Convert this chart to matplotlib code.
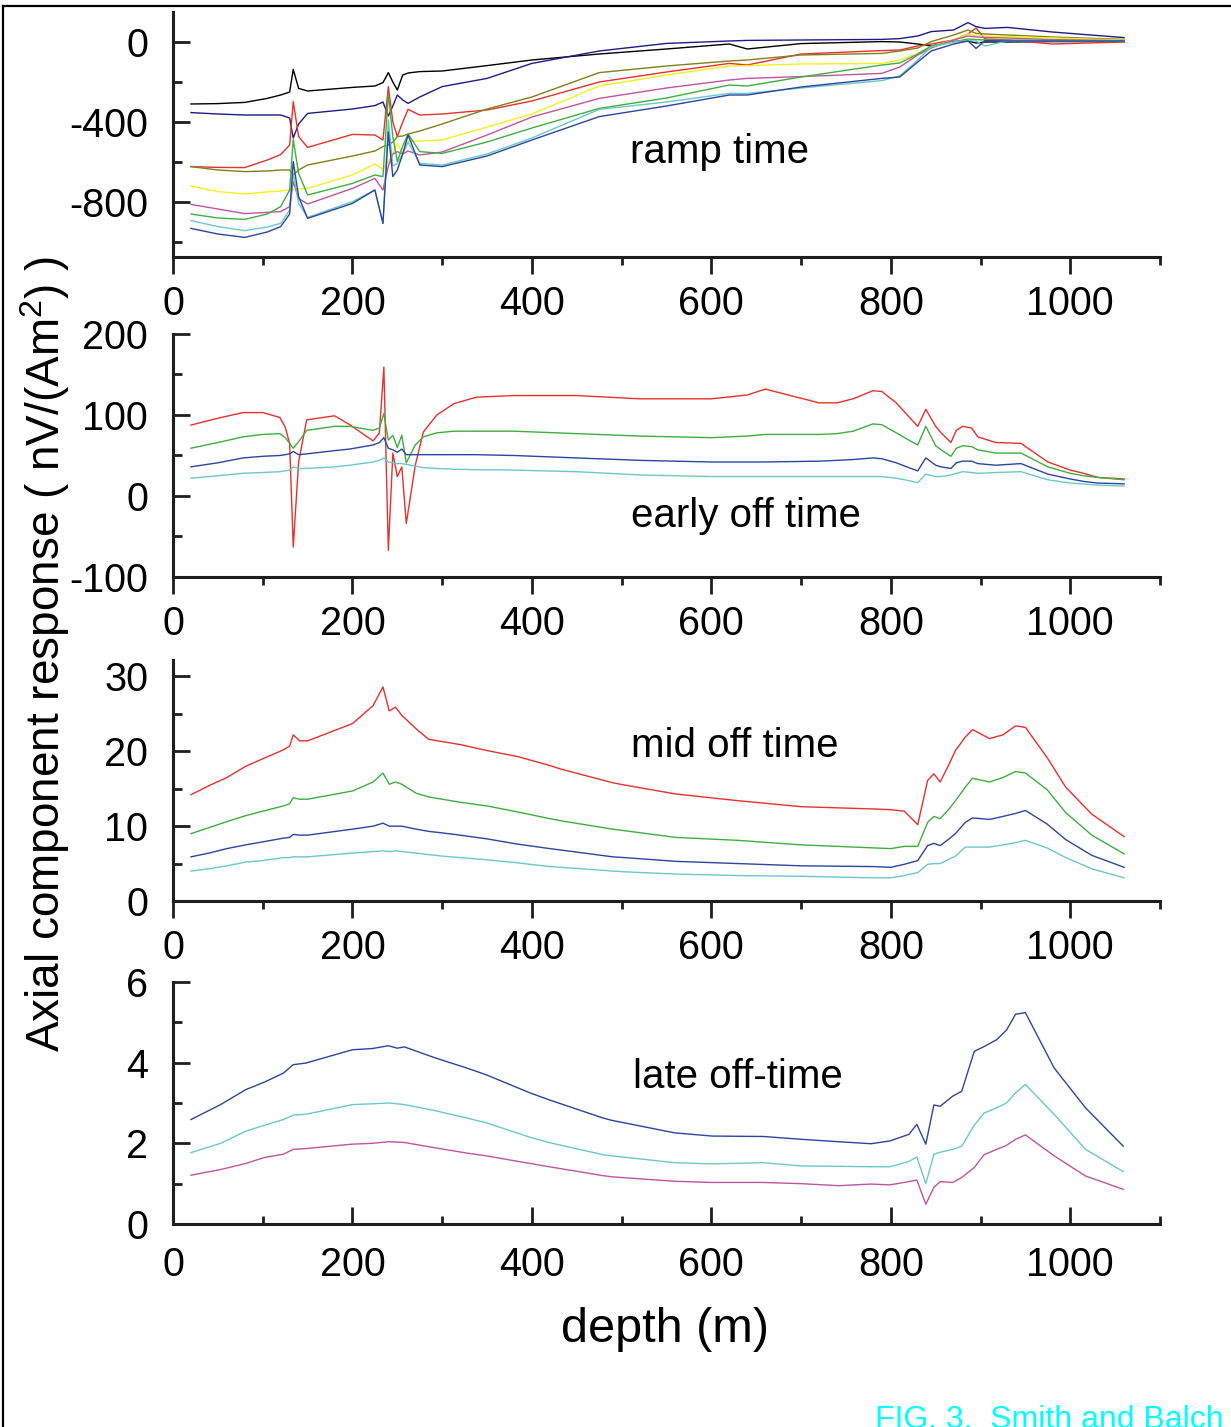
import matplotlib
matplotlib.use("Agg")
import matplotlib.pyplot as plt
from matplotlib.lines import Line2D
from matplotlib.ticker import MultipleLocator

plt.rcParams['font.family'] = ['Liberation Sans', 'DejaVu Sans']
plt.rcParams['mathtext.fontset'] = 'custom'
plt.rcParams['mathtext.rm'] = 'Liberation Sans'
plt.rcParams['mathtext.it'] = 'Liberation Sans:italic'
plt.rcParams['axes.unicode_minus'] = False

# ---------------- data ----------------
# Panel 1: ramp time
depth1 = [20, 50, 80, 105, 120, 130, 134, 140, 150, 200, 225, 234, 240, 245, 250, 256, 262, 275, 300,
          350, 400, 475, 550, 620, 640, 700, 790, 810, 830, 845, 870, 886, 895, 905, 930, 980, 1060]
ramp_black = [-310, -308, -302, -282, -265, -250, -137, -232, -245, -227, -220, -203, -153, -200, -240, -165, -155, -148, -145,
              -118, -90, -60, -35, -10, -35, -8, 2, 0, -10, -20, 3, 5, -5, 0, 0, 2, 3]
ramp_navy = [-353, -360, -365, -365, -365, -380, -480, -410, -357, -335, -318, -300, -370, -320, -265, -290, -307, -275, -223,
             -182, -107, -45, -7, 5, 8, 10, 13, 17, 30, 52, 60, 97, 77, 68, 73, 50, 22]
ramp_red = [-623, -627, -628, -590, -563, -515, -298, -473, -527, -462, -465, -490, -223, -400, -473, -400, -337, -365, -360,
            -340, -295, -200, -150, -107, -115, -60, -43, -40, -20, -10, 10, 40, 70, 15, 10, -10, 0]
ramp_olive = [-623, -640, -648, -645, -640, -640, -665, -640, -615, -570, -545, -523, -515, -500, -473, -470, -460, -445, -410,
              -335, -275, -153, -120, -95, -90, -65, -57, -45, -30, 2, 35, 60, 43, 40, 35, 25, 13]
ramp_yellow = [-720, -748, -760, -750, -745, -738, -738, -735, -732, -665, -610, -637, -598, -560, -507, -557, -498, -495, -490,
               -425, -360, -220, -165, -120, -118, -110, -107, -90, -57, -23, 10, 40, 30, 30, 27, 20, 10]
ramp_magenta = [-812, -835, -858, -852, -848, -823, -698, -782, -810, -732, -682, -740, -620, -560, -548, -560, -545, -565, -550,
                -465, -375, -282, -230, -190, -182, -173, -157, -125, -65, -30, 10, 30, 25, 23, 20, 12, 7]
ramp_green = [-860, -880, -887, -860, -823, -740, -487, -657, -765, -707, -665, -673, -257, -473, -598, -520, -460, -548, -557,
              -500, -430, -332, -280, -215, -220, -175, -115, -105, -60, -20, 0, 15, 12, 10, 10, 8, 5]
ramp_cyan = [-893, -923, -943, -925, -907, -840, -657, -807, -877, -798, -740, -907, -390, -620, -607, -560, -500, -607, -615,
             -560, -480, -337, -300, -257, -257, -230, -193, -170, -90, -25, 0, 7, 5, -20, 5, 5, 5]
ramp_blue = [-932, -960, -977, -950, -923, -860, -598, -773, -882, -807, -740, -907, -450, -673, -640, -560, -465, -615, -623,
             -570, -490, -373, -320, -265, -265, -225, -182, -175, -100, -45, -10, 5, -32, 7, 5, 5, 5]

# Panel 2: early off time
depth2 = [20, 50, 78, 100, 119, 125, 130, 134, 140, 149, 180, 197, 223, 230, 235, 240, 245, 250, 255, 260, 270, 279, 294,
          313, 338, 380, 450, 520, 600, 640, 660, 720, 740, 758, 780, 790, 806, 820, 830, 839, 850, 856, 867, 873, 880,
          890, 897, 917, 945, 975, 1000, 1015, 1030, 1060]
early_red = [87.6, 96, 103, 103, 97, 85, 65, -63, 42, 94, 99, 88, 68, 78, 159, -67, 53, 24, 36, -34, 38, 79, 100,
             114, 122, 124, 124, 120, 120, 124.7, 132, 115, 115, 120, 130, 129, 115, 98, 86, 107, 86, 78, 66, 81, 86,
             84, 73, 66, 65, 42, 32, 28, 23, 21]
early_green = [59, 66, 73, 76, 77, 72, 65, 59, 67, 81, 86, 86, 81, 84, 102, 69, 75, 60, 75, 41, 63, 73, 78,
               80, 80, 80, 77, 74, 72, 74, 76, 76, 77, 80, 89, 88, 78, 69, 63, 86, 62, 57, 49, 59, 62,
               61, 57, 53, 53, 36, 28, 25, 23, 20]
early_blue = [36, 41, 47, 49, 50, 51, 52, 55, 51, 52, 56, 58, 63, 66, 72, 59, 57, 54, 58, 51, 51, 51, 51,
              51, 51, 50, 47, 44, 42, 42, 42, 43, 44, 45, 47, 46, 41, 35, 31, 47, 38, 36, 34, 41, 43,
              43, 40, 38, 40, 27, 21, 18, 16, 15]
early_cyan = [22, 25, 28, 29, 30, 31, 32, 36, 34, 34, 36, 38, 42, 44, 47, 42, 41, 40, 40, 39, 37, 35, 34,
              33, 32.5, 32, 30, 26, 24, 24, 24, 24, 24, 24, 24, 24, 22, 19, 16.5, 27, 24, 24, 26, 28, 30,
              29, 28, 29, 30, 20, 16, 14.8, 13.5, 12.3]

# Panel 3: mid off time
depth3 = [20, 40, 60, 81, 100, 123, 130, 134, 141, 150, 200, 223, 234, 241, 248, 255, 271, 285, 300, 320, 350, 384,
          420, 433, 490, 503, 560, 630, 700, 780, 800, 815, 830, 841, 848, 855, 865, 872, 883, 891, 910, 925, 939,
          950, 974, 995, 1024, 1060]
mid_red = [14.2, 15.4, 16.5, 18.0, 19.0, 20.2, 20.7, 22.2, 21.4, 21.4, 23.7, 26.1, 28.6, 25.4, 25.9, 24.8, 23.0, 21.6,
           21.3, 20.9, 20.1, 19.3, 18.1, 17.6, 15.8, 15.5, 14.3, 13.4, 12.6, 12.3, 12.2, 12.0, 10.2, 16.1, 17.0, 15.9,
           18.3, 20.1, 21.9, 22.9, 21.7, 22.2, 23.4, 23.2, 19.2, 15.2, 11.6, 8.6]
mid_green = [9.0, 9.8, 10.6, 11.4, 12.0, 12.7, 13.0, 13.8, 13.6, 13.6, 14.7, 15.9, 17.1, 15.6, 15.9, 15.6, 14.4, 13.9,
             13.6, 13.2, 12.7, 11.9, 11.0, 10.7, 9.6, 9.4, 8.5, 8.1, 7.5, 7.1, 7.0, 7.3, 7.3, 10.5, 11.3, 11.0,
             12.3, 13.4, 15.2, 16.4, 15.9, 16.5, 17.3, 17.1, 14.9, 11.8, 8.8, 6.3]
mid_blue = [5.9, 6.4, 7.0, 7.5, 7.9, 8.4, 8.5, 8.9, 8.8, 8.8, 9.6, 10.0, 10.4, 10.0, 10.0, 10.0, 9.6, 9.3,
            9.1, 8.8, 8.3, 7.6, 7.0, 6.8, 5.9, 5.8, 5.3, 5.0, 4.7, 4.6, 4.5, 4.9, 5.4, 7.4, 7.7, 7.4,
            8.3, 9.0, 10.5, 11.1, 10.9, 11.3, 11.7, 12.1, 10.3, 8.2, 6.1, 4.5]
mid_cyan = [4.0, 4.3, 4.7, 5.2, 5.4, 5.8, 5.8, 5.9, 5.9, 5.9, 6.4, 6.6, 6.7, 6.6, 6.7, 6.6, 6.4, 6.2,
            6.0, 5.8, 5.5, 5.1, 4.6, 4.5, 4.0, 3.9, 3.6, 3.4, 3.3, 3.1, 3.1, 3.4, 3.8, 4.9, 5.0, 5.0,
            5.6, 6.0, 7.2, 7.2, 7.2, 7.5, 7.8, 8.1, 7.1, 5.8, 4.3, 3.1]

# Panel 4: late off-time
depth4 = [20, 53, 81, 102, 123, 134, 148, 200, 222, 240, 250, 258, 292, 327, 349, 398, 419, 479, 489, 559, 601, 658,
          700, 742, 778, 799, 820, 829, 839, 848, 855, 869, 879, 893, 904, 918, 929, 939, 950, 982, 1017, 1059]
late_blue = [2.59, 2.96, 3.33, 3.52, 3.74, 3.95, 3.99, 4.32, 4.35, 4.42, 4.36, 4.39, 4.12, 3.87, 3.70, 3.25, 3.08,
             2.63, 2.57, 2.26, 2.18, 2.17, 2.10, 2.04, 1.99, 2.06, 2.22, 2.47, 1.98, 2.95, 2.92, 3.17, 3.29, 4.28,
             4.40, 4.57, 4.81, 5.20, 5.24, 3.87, 2.88, 1.93]
late_cyan = [1.77, 2.00, 2.30, 2.45, 2.59, 2.70, 2.72, 2.96, 2.98, 3.00, 2.98, 2.96, 2.81, 2.63, 2.51, 2.15, 2.02,
             1.72, 1.69, 1.52, 1.49, 1.52, 1.44, 1.43, 1.42, 1.42, 1.55, 1.66, 1.00, 1.73, 1.78, 1.85, 1.93, 2.45,
             2.75, 2.88, 3.00, 3.25, 3.46, 2.72, 1.85, 1.30]
late_magenta = [1.21, 1.35, 1.50, 1.65, 1.73, 1.85, 1.87, 1.98, 2.00, 2.04, 2.03, 2.02, 1.89, 1.76, 1.69, 1.50, 1.42,
                1.20, 1.17, 1.06, 1.03, 1.03, 1.00, 0.95, 0.99, 0.97, 1.05, 1.09, 0.49, 0.91, 1.05, 1.03, 1.15, 1.40,
                1.72, 1.85, 1.95, 2.10, 2.21, 1.69, 1.19, 0.86]

panel_labels = ["ramp time", "early off time", "mid off time", "late off-time"]
xticks = [0, 200, 400, 600, 800, 1000]

# ---------------- style ----------------
C = {'black': '#000000', 'navy': '#1c1c85', 'red': '#e8302c', 'olive': '#80801a', 'yellow': '#f2f21a',
     'magenta': '#c0559f', 'green': '#3fae3f', 'cyan': '#6cc8c8', 'blue': '#2a46a0'}
LW = 1.0

W, H = 1231, 1427
fig = plt.figure(figsize=(W / 100, H / 100), dpi=100)


def rect(top, bottom, left=173, right=1160):
    return [left / W, 1 - bottom / H, (right - left) / W, (bottom - top) / H]


ax1 = fig.add_axes(rect(12, 257))
ax2 = fig.add_axes(rect(334, 577))
ax3 = fig.add_axes(rect(660, 901))
ax4 = fig.add_axes(rect(982, 1224))

ax1.plot(depth1, ramp_black, color=C['black'], lw=LW)
ax1.plot(depth1, ramp_navy, color=C['navy'], lw=LW)
ax1.plot(depth1, ramp_red, color=C['red'], lw=LW)
ax1.plot(depth1, ramp_olive, color=C['olive'], lw=LW)
ax1.plot(depth1, ramp_yellow, color=C['yellow'], lw=LW)
ax1.plot(depth1, ramp_magenta, color=C['magenta'], lw=LW)
ax1.plot(depth1, ramp_green, color=C['green'], lw=LW)
ax1.plot(depth1, ramp_cyan, color=C['cyan'], lw=LW)
ax1.plot(depth1, ramp_blue, color=C['blue'], lw=LW)

ax2.plot(depth2, early_red, color=C['red'], lw=LW)
ax2.plot(depth2, early_green, color=C['green'], lw=LW)
ax2.plot(depth2, early_blue, color=C['blue'], lw=LW)
ax2.plot(depth2, early_cyan, color=C['cyan'], lw=LW)

ax3.plot(depth3, mid_red, color=C['red'], lw=LW)
ax3.plot(depth3, mid_green, color=C['green'], lw=LW)
ax3.plot(depth3, mid_blue, color=C['blue'], lw=LW)
ax3.plot(depth3, mid_cyan, color=C['cyan'], lw=LW)

ax4.plot(depth4, late_blue, color=C['blue'], lw=LW)
ax4.plot(depth4, late_cyan, color=C['cyan'], lw=LW)
ax4.plot(depth4, late_magenta, color=C['magenta'], lw=LW)

ylims = [(-1075, 150), (-100, 200), (0, 32.2), (0, 6)]
ymaj = [400, 100, 10, 2]
ymin = [200, 50, 5, 1]
FS = 28.5
SPC = '#1e1e1e'
for i, ax in enumerate([ax1, ax2, ax3, ax4]):
    ax.set_xlim(0, 1100)
    ax.set_ylim(*ylims[i])
    ax.set_xticks(xticks)
    ax.xaxis.set_minor_locator(MultipleLocator(100))
    ax.yaxis.set_major_locator(MultipleLocator(ymaj[i]))
    ax.yaxis.set_minor_locator(MultipleLocator(ymin[i]))
    for s in ['top', 'right']:
        ax.spines[s].set_visible(False)
    for s in ['left', 'bottom']:
        ax.spines[s].set_linewidth(2.2)
        ax.spines[s].set_color(SPC)
    xdir = 'in' if i == 3 else 'out'
    xpad = 16 if i == 3 else 8.5
    ax.tick_params(axis='x', which='major', direction=xdir, length=12, width=2, color=SPC,
                   labelsize=FS, pad=xpad)
    ax.tick_params(axis='x', which='minor', direction=xdir, length=6, width=2, color=SPC)
    ax.tick_params(axis='y', which='major', direction='in', length=12, width=2, color=SPC,
                   labelsize=FS, pad=18)
    ax.tick_params(axis='y', which='minor', direction='in', length=6.5, width=2, color=SPC)
    ax.patch.set_alpha(0)

# panel labels (figure pixel positions)
lab_pos = [(630, 163), (631, 527), (631, 757), (633, 1088)]
for (px, py), txt in zip(lab_pos, panel_labels):
    fig.text(px / W, 1 - py / H, txt, fontsize=29, ha='left', va='baseline')

fig.text(665 / W, 1 - 1342 / H, "depth (m)", fontsize=35, ha='center', va='baseline')
fig.text(45 / W, 1 - 654 / H, r"Axial component response ( nV/(Am$^{2}$) )", fontsize=33,
         rotation=90, ha='center', va='center')
fig.text(875 / W, 1 - 1428 / H, "FIG. 3.  Smith and Balch", fontsize=23, color='#00ffff',
         ha='left', va='baseline')

# figure border (partly cropped in the reference)
fig.add_artist(Line2D([3 / W, 3 / W], [0, 1 - 6 / H], color='black', lw=1.6, transform=fig.transFigure))
fig.add_artist(Line2D([3 / W, 1], [1 - 6 / H, 1 - 6 / H], color='black', lw=1.6, transform=fig.transFigure))

fig.savefig("out.png", dpi=100, facecolor='white')
